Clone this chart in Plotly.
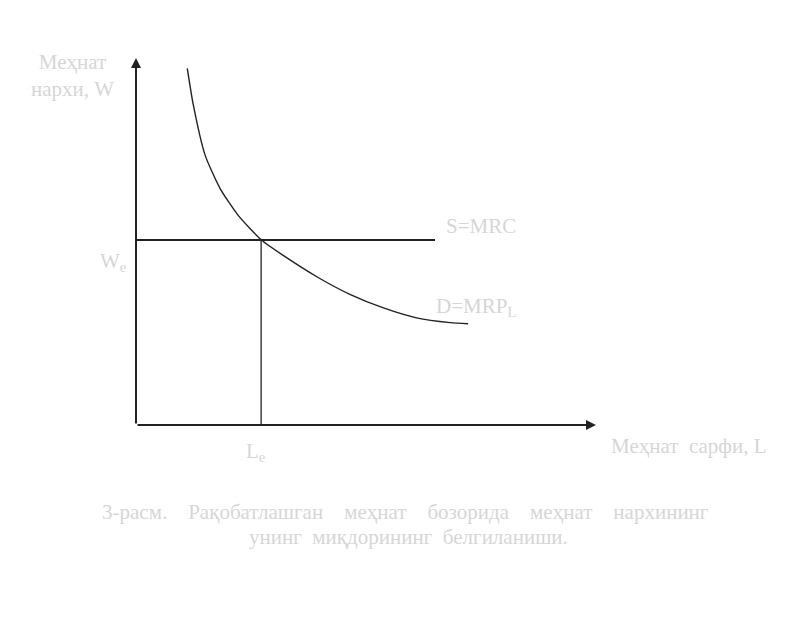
import plotly.graph_objects as go

# Demand curve D = MRP_L (labour quantity L, wage W), in chart units 0..100
demand_L = [11.15, 12.46, 15.0, 18.26, 22.17, 27.28, 32.0, 39.3, 46.5, 53.8, 61.0, 68.3, 72.2]
demand_W = [97.2, 87.2, 73.6, 64.5, 57.2, 50.4, 46.2, 40.4, 35.6, 31.9, 29.2, 27.9, 27.6]

# Supply S = MRC (horizontal at equilibrium wage)
supply_L = [0, 65.0]
wage_e = 50.4
labour_e = 27.2

axis_max_x = 100
axis_max_y = 100

TXT = "#d6d6d6"
FONT = "Liberation Serif"

fig = go.Figure()

fig.add_trace(go.Scatter(x=demand_L, y=demand_W, mode="lines",
                         line=dict(color="#222", width=1.4, shape="spline", smoothing=0.6),
                         showlegend=False, hoverinfo="skip"))
fig.add_trace(go.Scatter(x=supply_L, y=[wage_e, wage_e], mode="lines",
                         line=dict(color="#222", width=2),
                         showlegend=False, hoverinfo="skip"))
fig.add_trace(go.Scatter(x=[labour_e, labour_e], y=[0, wage_e], mode="lines",
                         line=dict(color="#222", width=1.3),
                         showlegend=False, hoverinfo="skip"))

# axes with arrows
fig.add_annotation(x=axis_max_x, y=0, ax=0, ay=0, xref="x", yref="y", axref="x", ayref="y",
                   showarrow=True, arrowhead=2, arrowsize=1, arrowwidth=2, arrowcolor="#222", text="")
fig.add_annotation(x=0, y=axis_max_y, ax=0, ay=0, xref="x", yref="y", axref="x", ayref="y",
                   showarrow=True, arrowhead=2, arrowsize=1, arrowwidth=2, arrowcolor="#222", text="")

def px_to_paper(px, py):
    return (px - 136) / 460, (425 - py) / 367

def label(px, py, text, size=21):
    x, y = px_to_paper(px, py)
    fig.add_annotation(x=x, y=y, xref="paper", yref="paper", xanchor="center", yanchor="middle",
                       text=text, showarrow=False,
                       font=dict(family=FONT, size=size, color=TXT))

S = "&nbsp;"
label(72, 76, "Меҳнат<br>нархи, W")
label(113, 262, "W<sub>e</sub>")
label(256, 452, "L<sub>e</sub>")
label(688, 446, "Меҳнат" + S * 2 + "сарфи, L")
label(481, 226, "S=MRC")
label(476, 307, "D=MRP<sub>L</sub>")
gap1 = S * 4
label(405, 512, gap1.join(["3-расм.", "Рақобатлашган", "меҳнат", "бозорида", "меҳнат", "нархининг"]))
gap2 = S * 2
label(408, 537, gap2.join(["унинг", "миқдорининг", "белгиланиши."]))

fig.update_xaxes(range=[0, axis_max_x], visible=False, fixedrange=True)
fig.update_yaxes(range=[0, axis_max_y], visible=False, fixedrange=True)
fig.update_layout(width=800, height=633, plot_bgcolor="white", paper_bgcolor="white",
                  margin=dict(l=128, r=212, t=50, b=216), showlegend=False)

fig.write_html("out.html")
